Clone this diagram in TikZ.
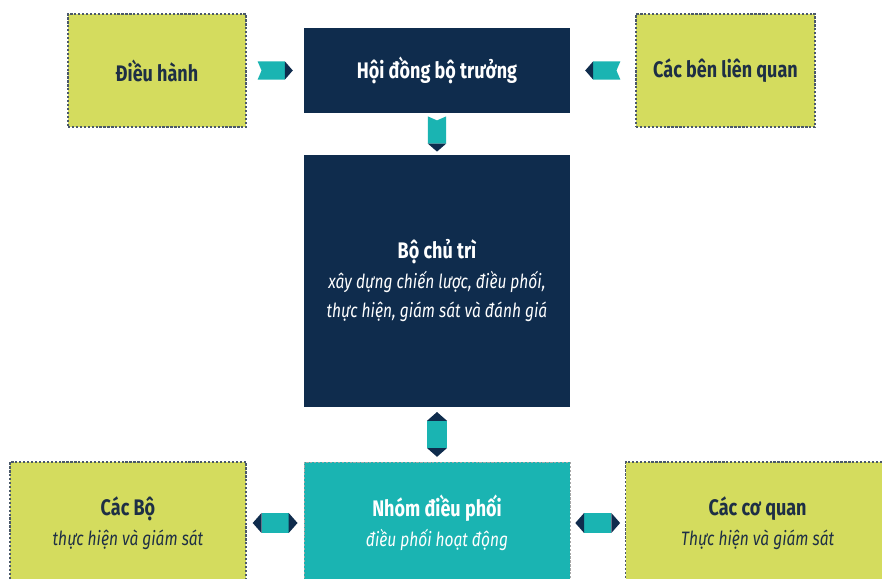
\documentclass[tikz,border=0pt]{standalone}
\usepackage{fontspec}
\setmainfont{Fira Sans}[FakeStretch=0.8]
\usetikzlibrary{calc}

\definecolor{navy}{HTML}{0F2C4D}
\definecolor{teal1}{HTML}{1AB4B2}
\definecolor{lime}{HTML}{D4DC5E}
\definecolor{inkdark}{HTML}{1E2F45}

\newcommand{\boxtitle}[1]{{\fontsize{16}{21}\selectfont\bfseries #1}}
\newcommand{\boxnote}[1]{{\fontsize{13.8}{21}\selectfont\itshape #1}}

\tikzset{
  oneway/.pic={
    \fill[teal1] (-0.44,-0.23) -- (0.24,-0.23) -- (0.24,0.23) -- (-0.44,0.23) -- (-0.34,0) -- cycle;
    \fill[navy] (0.24,-0.23) -- (0.44,0) -- (0.24,0.23) -- cycle;
  },
  twoway/.pic={
    \fill[teal1] (-0.34,-0.25) rectangle (0.34,0.25);
    \fill[navy] (-0.34,-0.25) -- (-0.56,0) -- (-0.34,0.25) -- cycle;
    \fill[navy] (0.34,-0.25) -- (0.56,0) -- (0.34,0.25) -- cycle;
  }
}

\begin{document}
\begin{tikzpicture}[every node/.style={align=center, font=\fontsize{13.8}{21}\selectfont},
  limebox/.style={fill=lime, draw=inkdark!80, line width=0.9pt, dash pattern=on 1.6pt off 1.2pt, text=inkdark, inner sep=0pt},
  navybox/.style={fill=navy, text=white, inner sep=0pt},
  tealbox/.style={fill=teal1, draw=gray!70, line width=0.6pt, dash pattern=on 1.6pt off 1.2pt, text=white, inner sep=0pt}]
  \clip (0,0) rectangle (22.05,14.475);
  \fill[white] (0,0) rectangle (22.05,14.475);

  % top row
  \node[limebox, minimum width=4.45cm, minimum height=2.825cm] (dh) at (3.925,12.7125) {\boxtitle{Điều hành}};
  \node[navybox, minimum width=6.65cm, minimum height=2.125cm] (hd) at (10.925,12.7125) {\boxtitle{Hội đồng bộ trưởng}};
  \node[limebox, minimum width=4.475cm, minimum height=2.825cm] (cb) at (18.1375,12.7125) {\boxtitle{Các bên liên quan}};

  % lead ministry
  \node[navybox, minimum width=6.65cm, minimum height=6.3cm] (bct) at (10.925,7.45)
    {\boxtitle{Bộ chủ trì}\\ \boxnote{xây dựng chiến lược, điều phối,}\\ \boxnote{thực hiện, giám sát và đánh giá}};

  % bottom row (runs past the lower edge)
  \node[tealbox, minimum width=6.65cm, minimum height=3.05cm] (nhom) at (10.925,1.4)
    {\boxtitle{Nhóm điều phối}\\ \boxnote{điều phối hoạt động}};
  \node[limebox, minimum width=5.9cm, minimum height=3.05cm] (cacbo) at (3.2,1.4)
    {\boxtitle{Các Bộ}\\ \boxnote{thực hiện và giám sát}};
  \node[limebox, minimum width=6.6cm, minimum height=3.05cm, anchor=west] (caccq) at (15.625,1.4)
    {\boxtitle{Các cơ quan}\\ \boxnote{Thực hiện và giám sát}};

  % connectors
  \pic at ($(dh.east)!0.5!(hd.west)$) {oneway};
  \pic[rotate=180] at ($(cb.west)!0.5!(hd.east)$) {oneway};
  \pic[rotate=-90] at ($(hd.south)!0.5!(bct.north)$) {oneway};
  \pic[rotate=90] at ($(bct.south)!0.5!(nhom.north)$) {twoway};
  \pic at ($(cacbo.east)!0.5!(nhom.west)$) {twoway};
  \pic at ($(nhom.east)!0.5!(caccq.west)$) {twoway};
\end{tikzpicture}
\end{document}
